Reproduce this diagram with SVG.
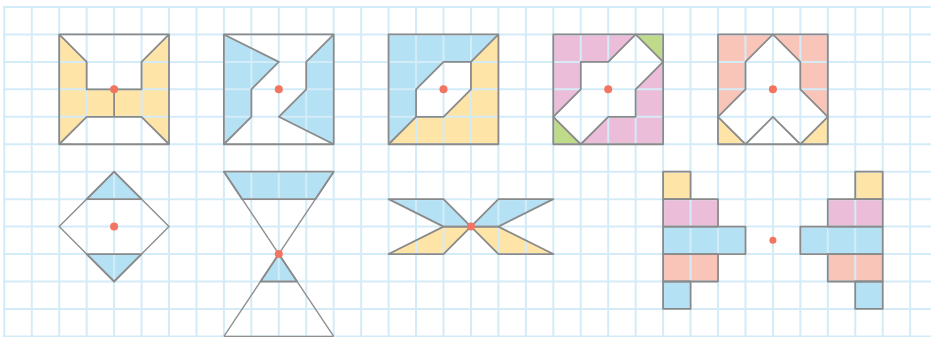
<svg xmlns="http://www.w3.org/2000/svg" xmlns:xlink="http://www.w3.org/1999/xlink" width="931" height="337" viewBox="0 0 931 337">
<style>
.grid{fill:none;stroke:#d3ecf8;stroke-width:2}
.ol{fill:none;stroke:#8a8a8a;stroke-width:1.8;stroke-linejoin:round}
.thin{fill:none;stroke:#8f8f8f;stroke-width:1.4}
.y{fill:#fee4a7}
.b{fill:#b5e1f4}
.p{fill:#ecbdd9}
.g{fill:#bfda89}
.s{fill:#f9c5b9}
.w{fill:#ffffff}
.dot{fill:#f27461}
</style>
<rect width="931" height="337" fill="#ffffff"/>
<g id="fills">
<g id="fig1-fill"><polygon class="y" points="59.2,34.45 86.65,61.9 86.65,89.35 141.55,89.35 141.55,61.9 169,34.45 169,144.25 141.55,116.8 86.65,116.8 59.2,144.25"/></g>
<g id="fig2-fill"><polygon class="b" points="223.9,34.45 278.8,61.9 251.35,89.35 251.35,116.8 223.9,144.25"/><polygon class="b" points="333.7,34.45 306.25,61.9 306.25,89.35 278.8,116.8 333.7,144.25"/></g>
<g id="fig3-fill"><polygon class="b" points="388.6,34.45 498.4,34.45 470.95,61.9 443.5,61.9 416.05,89.35 416.05,116.8 388.6,144.25"/><polygon class="y" points="498.4,34.45 498.4,144.25 388.6,144.25 416.05,116.8 443.5,116.8 470.95,89.35 470.95,61.9"/></g>
<g id="fig4-fill"><rect class="p" x="553.3" y="34.45" width="109.8" height="109.8"/><polygon class="g" points="635.65,34.45 663.1,34.45 663.1,61.9"/><polygon class="g" points="553.3,116.8 553.3,144.25 580.75,144.25"/><polygon class="w" points="635.65,34.45 663.1,61.9 635.65,89.35 635.65,116.8 608.2,116.8 580.75,144.25 553.3,116.8 580.75,89.35 580.75,61.9 608.2,61.9"/></g>
<g id="fig5-fill"><rect class="s" x="718" y="34.45" width="109.8" height="82.35"/><polygon class="y" points="718,116.8 718,144.25 745.45,144.25"/><polygon class="y" points="827.8,116.8 827.8,144.25 800.35,144.25"/><polygon class="w" points="772.9,34.45 800.35,61.9 800.35,89.35 827.8,116.8 800.35,144.25 772.9,116.8 745.45,144.25 718,116.8 745.45,89.35 745.45,61.9"/></g>
<g id="fig6-fill"><polygon class="b" points="114.1,171.7 141.55,199.15 86.65,199.15"/><polygon class="b" points="86.65,254.05 141.55,254.05 114.1,281.5"/></g>
<g id="fig7-fill"><polygon class="b" points="223.9,171.7 333.7,171.7 315.4,199.15 242.2,199.15"/><polygon class="b" points="278.8,254.05 297.1,281.5 260.5,281.5"/></g>
<g id="fig8-fill"><polygon class="b" points="388.6,199.15 443.5,199.15 470.95,226.6 443.5,226.6"/><polygon class="b" points="470.95,226.6 498.4,199.15 553.3,199.15 498.4,226.6"/><polygon class="y" points="388.6,254.05 443.5,226.6 470.95,226.6 443.5,254.05"/><polygon class="y" points="470.95,226.6 498.4,226.6 553.3,254.05 498.4,254.05"/></g>
<g id="fig9-fill">
<rect class="y" x="663.1" y="171.7" width="27.45" height="27.45"/><rect class="p" x="663.1" y="199.15" width="54.9" height="27.45"/><rect class="b" x="663.1" y="226.6" width="82.35" height="27.45"/><rect class="s" x="663.1" y="254.05" width="54.9" height="27.45"/><rect class="b" x="663.1" y="281.5" width="27.45" height="27.45"/>
<rect class="y" x="855.25" y="171.7" width="27.45" height="27.45"/><rect class="p" x="827.8" y="199.15" width="54.9" height="27.45"/><rect class="b" x="800.35" y="226.6" width="82.35" height="27.45"/><rect class="s" x="827.8" y="254.05" width="54.9" height="27.45"/><rect class="b" x="855.25" y="281.5" width="27.45" height="27.45"/>
</g>
</g>
<g id="grid">
<path class="grid" d="M4.3 6V337M31.75 6V337M59.2 6V337M86.65 6V337M114.1 6V337M141.55 6V337M169 6V337M196.45 6V337M223.9 6V337M251.35 6V337M278.8 6V337M306.25 6V337M333.7 6V337M361.15 6V337M388.6 6V337M416.05 6V337M443.5 6V337M470.95 6V337M498.4 6V337M525.85 6V337M553.3 6V337M580.75 6V337M608.2 6V337M635.65 6V337M663.1 6V337M690.55 6V337M718 6V337M745.45 6V337M772.9 6V337M800.35 6V337M827.8 6V337M855.25 6V337M882.7 6V337M910.15 6V337"/>
<path class="grid" d="M3.3 7H931M3.3 34.45H931M3.3 61.9H931M3.3 89.35H931M3.3 116.8H931M3.3 144.25H931M3.3 171.7H931M3.3 199.15H931M3.3 226.6H931M3.3 254.05H931M3.3 281.5H931M3.3 308.95H931M3.3 336.4H931"/>
</g>
<g id="outlines">
<g id="fig1"><rect class="ol" x="59.2" y="34.45" width="109.8" height="109.8"/><path class="ol" d="M59.2 34.45L86.65 61.9V89.35H141.55V61.9L169 34.45M59.2 144.25L86.65 116.8H141.55L169 144.25M114.1 89.35V116.8"/></g>
<g id="fig2"><rect class="ol" x="223.9" y="34.45" width="109.8" height="109.8"/><path class="ol" d="M223.9 34.45L278.8 61.9L251.35 89.35V116.8L223.9 144.25M333.7 34.45L306.25 61.9V89.35L278.8 116.8L333.7 144.25"/></g>
<g id="fig3"><rect class="ol" x="388.6" y="34.45" width="109.8" height="109.8"/><polygon class="ol" points="443.5,61.9 470.95,61.9 470.95,89.35 443.5,116.8 416.05,116.8 416.05,89.35"/><path class="ol" d="M470.95 61.9L498.4 34.45M388.6 144.25L416.05 116.8"/></g>
<g id="fig4"><rect class="ol" x="553.3" y="34.45" width="109.8" height="109.8"/><polygon class="ol" points="635.65,34.45 663.1,61.9 635.65,89.35 635.65,116.8 608.2,116.8 580.75,144.25 553.3,116.8 580.75,89.35 580.75,61.9 608.2,61.9"/></g>
<g id="fig5"><rect class="ol" x="718" y="34.45" width="109.8" height="109.8"/><polygon class="ol" points="772.9,34.45 800.35,61.9 800.35,89.35 827.8,116.8 800.35,144.25 772.9,116.8 745.45,144.25 718,116.8 745.45,89.35 745.45,61.9"/></g>
<g id="fig6"><polygon class="thin" points="114.1,171.7 169,226.6 114.1,281.5 59.2,226.6"/><polygon class="ol" points="114.1,171.7 141.55,199.15 86.65,199.15"/><polygon class="ol" points="86.65,254.05 141.55,254.05 114.1,281.5"/></g>
<g id="fig7"><path class="thin" d="M223.9 171.7L333.7 336.4M333.7 171.7L223.9 336.4M223.9 336.4H333.7"/><polygon class="ol" points="223.9,171.7 333.7,171.7 315.4,199.15 242.2,199.15"/><polygon class="ol" points="278.8,254.05 297.1,281.5 260.5,281.5"/></g>
<g id="fig8"><polygon class="ol" points="388.6,199.15 443.5,199.15 470.95,226.6 443.5,226.6"/><polygon class="ol" points="470.95,226.6 498.4,199.15 553.3,199.15 498.4,226.6"/><polygon class="ol" points="388.6,254.05 443.5,226.6 470.95,226.6 443.5,254.05"/><polygon class="ol" points="470.95,226.6 498.4,226.6 553.3,254.05 498.4,254.05"/></g>
<g id="fig9">
<rect class="ol" x="663.1" y="171.7" width="27.45" height="27.45"/><rect class="ol" x="663.1" y="199.15" width="54.9" height="27.45"/><rect class="ol" x="663.1" y="226.6" width="82.35" height="27.45"/><rect class="ol" x="663.1" y="254.05" width="54.9" height="27.45"/><rect class="ol" x="663.1" y="281.5" width="27.45" height="27.45"/>
<rect class="ol" x="855.25" y="171.7" width="27.45" height="27.45"/><rect class="ol" x="827.8" y="199.15" width="54.9" height="27.45"/><rect class="ol" x="800.35" y="226.6" width="82.35" height="27.45"/><rect class="ol" x="827.8" y="254.05" width="54.9" height="27.45"/><rect class="ol" x="855.25" y="281.5" width="27.45" height="27.45"/>
</g>
</g>
<g id="centers">
<circle class="dot" cx="114.1" cy="89.35" r="4"/>
<circle class="dot" cx="278.8" cy="89.35" r="4"/>
<circle class="dot" cx="443.5" cy="89.35" r="4"/>
<circle class="dot" cx="608.2" cy="89.35" r="4"/>
<circle class="dot" cx="772.9" cy="89.35" r="4"/>
<circle class="dot" cx="114.1" cy="226.6" r="4"/>
<circle class="dot" cx="278.8" cy="254.05" r="4"/>
<circle class="dot" cx="470.95" cy="226.6" r="4"/>
<circle class="dot" cx="772.9" cy="240.33" r="3.5"/>
</g>
</svg>
